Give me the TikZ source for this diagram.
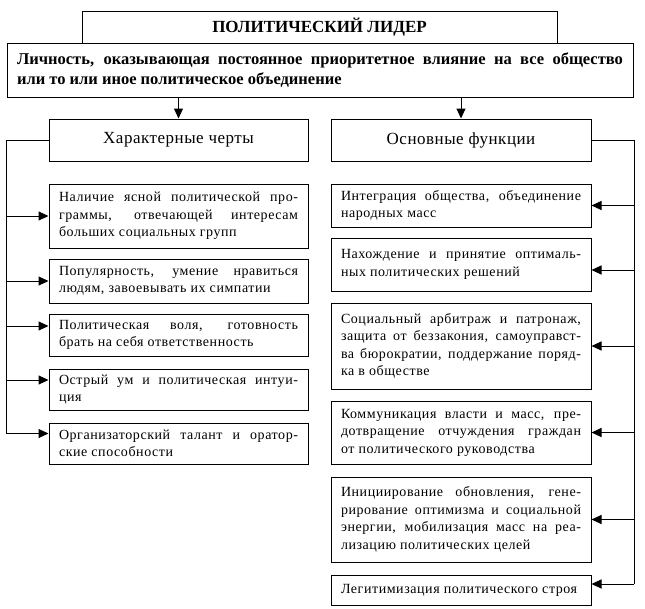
\documentclass[tikz,border=0pt]{standalone}
\usepackage{fontspec}
\setmainfont{Liberation Serif}
\newfontfamily\itemfont[LetterSpace=4]{Liberation Serif}
\newfontfamily\headfont[LetterSpace=3]{Liberation Serif}
\usetikzlibrary{arrows.meta}
\begin{document}
\begin{tikzpicture}[x=1pt,y=-1pt,
  box/.style={draw, line width=1pt, fill=white, inner sep=0pt},
  itembox/.style={box, minimum width=259pt, text width=239pt, inner xsep=10pt,
    align=justify, font=\itemfont\fontsize{14}{17.5}\selectfont},
  headbox/.style={box, minimum width=259pt, minimum height=42pt,
    font=\headfont\fontsize{17}{20}\selectfont},
  conn/.style={line width=1pt},
  arr/.style={line width=1pt, -{Triangle[length=10pt,width=9pt]}}]
\useasboundingbox (0,0) rectangle (645,608);
\tolerance=9999 \hyphenpenalty=10000
% title and definition
\node[box, minimum width=475pt, minimum height=32pt,
  font=\bfseries\fontsize{17}{20}\selectfont] (title) at (319.5,27) {ПОЛИТИЧЕСКИЙ ЛИДЕР};
\node[box, minimum width=626pt, minimum height=54pt, text width=606pt, inner xsep=10pt,
  align=justify, font=\bfseries\fontsize{16.5}{20}\selectfont] (def) at (320,70)
  {Личность, оказывающая постоянное приоритетное влияние на все общество\linebreak
   или то или иное политическое объединение};
% headers
\node[headbox] (hl) at (178.5,140) {Характерные черты};
\node[headbox, minimum width=260pt] (hr) at (461,140) {Основные функции};
\draw[arr] (hl.north |- def.south) -- (hl.north);
\draw[arr] (hr.north |- def.south) -- (hr.north);
% left items
\node[itembox, minimum height=64pt] (l1) at (178.5,216)
  {Наличие ясной политической про-\linebreak граммы, отвечающей интересам\linebreak больших социальных групп};
\node[itembox, minimum height=44pt] (l2) at (178.5,281)
  {Популярность, умение нравиться\linebreak людям, завоевывать их симпатии};
\node[itembox, minimum height=42pt] (l3) at (178.5,335)
  {Политическая воля, готовность\linebreak брать на себя ответственность};
\node[itembox, minimum height=41pt] (l4) at (178.5,389.5)
  {Острый ум и политическая интуи-\linebreak ция};
\node[itembox, minimum height=41pt] (l5) at (178.5,443.5)
  {Организаторский талант и оратор-\linebreak ские способности};
% right items
\tikzset{ritem/.style={itembox, minimum width=260pt, text width=240pt}}
\node[ritem, minimum height=43pt] (r1) at (461,205.5)
  {Интеграция общества, объединение\linebreak народных масс};
\node[ritem, minimum height=53pt] (r2) at (461,264.5)
  {Нахождение и принятие оптималь-\linebreak ных политических решений};
\node[ritem, minimum height=86pt] (r3) at (461,346)
  {Социальный арбитраж и патронаж,\linebreak защита от беззакония, самоуправст-\linebreak ва бюрократии, поддержание поряд-\linebreak ка в обществе};
\node[ritem, minimum height=63pt] (r4) at (461,432.5)
  {Коммуникация власти и масс, пре-\linebreak дотвращение отчуждения граждан\linebreak от политического руководства};
\node[ritem, minimum height=85pt] (r5) at (461,519.5)
  {Инициирование обновления, гене-\linebreak рирование оптимизма и социальной\linebreak энергии, мобилизация масс на реа-\linebreak лизацию политических целей};
\node[ritem, minimum height=30pt] (r6) at (461,590)
  {Легитимизация политического строя};
% buses
\coordinate (lbx) at (6,0);
\coordinate (rbx) at (634,0);
\draw[conn] (hl.west) -| ([yshift=10pt]l5.west -| lbx);
\draw[arr] (l1.west -| lbx) -- (l1.west);
\draw[arr] (l2.west -| lbx) -- (l2.west);
\draw[arr] ([yshift=9pt]l3.west -| lbx) -- ([yshift=9pt]l3.west);
\draw[arr] ([yshift=9.5pt]l4.west -| lbx) -- ([yshift=9.5pt]l4.west);
\draw[arr] ([yshift=10pt]l5.west -| lbx) -- ([yshift=10pt]l5.west);
\draw[conn] (hr.east) -| ([yshift=6pt]r6.east -| rbx);
\draw[arr] (r1.east -| rbx) -- (r1.east);
\draw[arr] ([yshift=-5.5pt]r2.east -| rbx) -- ([yshift=-5.5pt]r2.east);
\draw[arr] (r3.east -| rbx) -- (r3.east);
\draw[arr] (r4.east -| rbx) -- (r4.east);
\draw[arr] (r5.east -| rbx) -- (r5.east);
\draw[arr] ([yshift=6pt]r6.east -| rbx) -- ([yshift=6pt]r6.east);
\end{tikzpicture}
\end{document}
